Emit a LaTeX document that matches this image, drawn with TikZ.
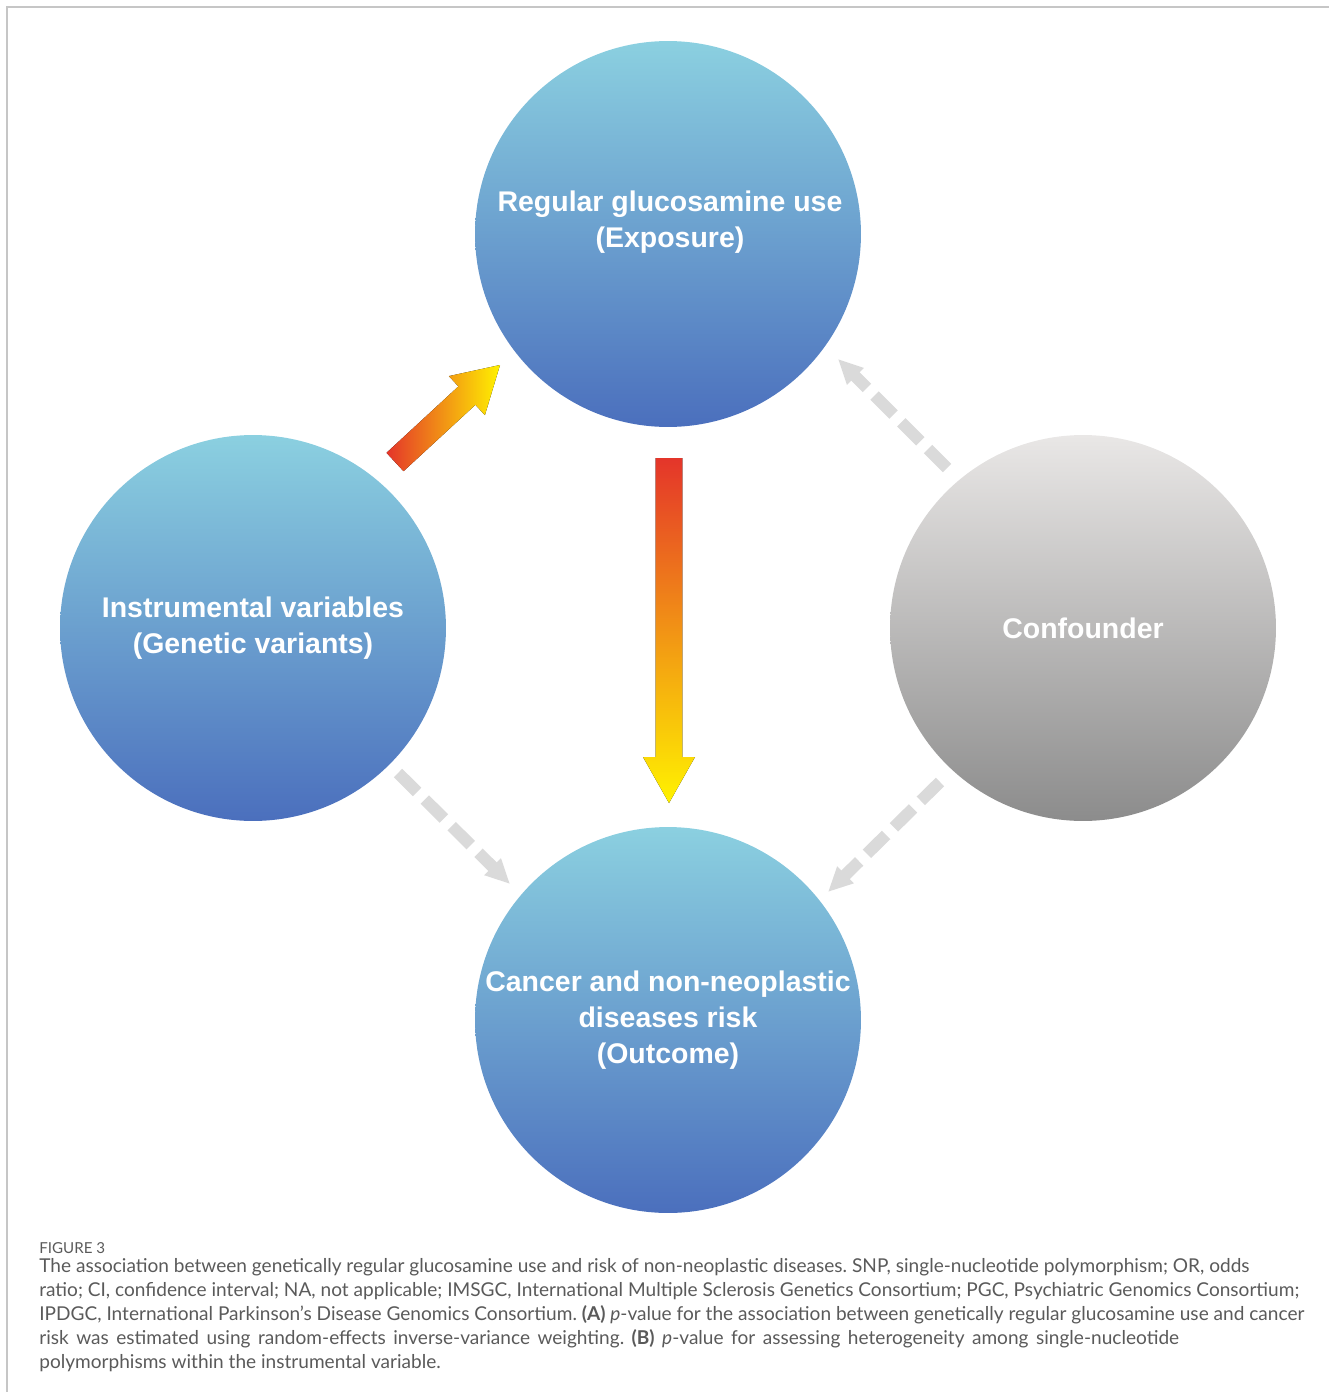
\documentclass[tikz,border=0pt]{standalone}
\usepackage{fontspec}
\usetikzlibrary{arrows.meta}
\newfontfamily\ballfont{Liberation Sans}
\newfontfamily\capfont{Lato}
\frenchspacing
\definecolor{balltop}{HTML}{8BD0E0}
\definecolor{ballmid}{HTML}{66A3D4}
\definecolor{ballbot}{HTML}{4B6FBD}
\definecolor{greytop}{HTML}{E9E7E6}
\definecolor{greymid}{HTML}{BAB8B6}
\definecolor{greybot}{HTML}{8C8C8C}
\definecolor{arrred}{HTML}{E4352A}
\definecolor{arrorange}{HTML}{F3A51E}
\definecolor{arryellow}{HTML}{FFF200}
\definecolor{dashgrey}{HTML}{DADADA}
\definecolor{capgrey}{HTML}{5A5A5A}

\begin{document}
\begin{tikzpicture}[x=0.02cm,y=-0.02cm]
	\tikzstyle{ball}=[circle,minimum size=7.72cm,inner sep=0pt,align=center,text=white,font=\ballfont\bfseries\fontsize{16.2}{20.4}\selectfont];
	\tikzstyle{blueball}=[ball,top color=balltop,middle color=ballmid,bottom color=ballbot];
	\tikzstyle{greyball}=[ball,top color=greytop,middle color=greymid,bottom color=greybot];
	\tikzstyle{balltext}=[align=center,inner sep=0pt,text=white,font=\ballfont\bfseries\fontsize{16.2}{20.4}\selectfont];
	\tikzstyle{dasharr}=[draw=dashgrey,line width=6.8pt,dash pattern=on 15.3pt off 6.2pt,-{Triangle[width=12.5pt,length=14pt]}];
	\tikzstyle{capline}=[anchor=base west,inner sep=0pt,text=capgrey,font=\capfont\fontsize{10.85}{13.6}\selectfont];

	\useasboundingbox (0,0) rectangle (1329,1392);
	\draw[gray!45,line width=1pt] (7,1392) -- (7,7) -- (1329,7);

	\node[blueball] (expo) at (668,234) {};
	\node[balltext] (expotext) at (670,222) {Regular glucosamine use\\(Exposure)};
	\node[blueball] (iv)   at (253,628) {Instrumental variables\\(Genetic variants)};
	\node[greyball] (conf) at (1083,628) {Confounder};
	\node[blueball] (outc) at (668,1020) {Cancer and non-neoplastic\\diseases risk\\(Outcome)};

	% fat arrows
	\fill[left color=arrred,middle color=arrorange,right color=arryellow]
		(386.5,452.8) -- (458.4,386.4) -- (448.9,376.1) -- (500,365)
		-- (484.9,415.1) -- (475.4,404.8) -- (403.5,471.2) -- cycle;
	\fill[top color=arrred,middle color=arrorange,bottom color=arryellow]
		(655.7,458) -- (682.3,458) -- (682.3,757) -- (695,757)
		-- (669,803) -- (643,757) -- (655.7,757) -- cycle;

	% dashed arrows
	\coordinate (c1) at (947,468);
	\coordinate (c2) at (838,359);
	\coordinate (c3) at (398,773);
	\coordinate (c4) at (510,884);
	\coordinate (c5) at (940,782);
	\coordinate (c6) at (828,892);
	\draw[dasharr] (c1) -- (c2);
	\draw[dasharr] (c3) -- (c4);
	\draw[dasharr] (c5) -- (c6);

	% caption
	\node[capline,font=\capfont\fontsize{8.6}{10}\selectfont] (fig) at (39,1253) {FIGURE 3};
	\node[capline] (cap1) at (39,1272) {The association between genetically regular glucosamine use and risk of non-neoplastic diseases. SNP, single-nucleotide polymorphism; OR, odds};
	\node[capline] (cap2) at (39,1296) {ratio; CI, confidence interval; NA, not applicable; IMSGC, International Multiple Sclerosis Genetics Consortium; PGC, Psychiatric Genomics Consortium;};
	\node[capline] (cap3) at (39,1320) {IPDGC, International Parkinson’s Disease Genomics Consortium. \textbf{(A)} \textit{p}-value for the association between genetically regular glucosamine use and cancer};
	\node[capline] (cap4) at (39,1344) {\makebox[22.8cm][s]{risk was estimated using random-effects inverse-variance weighting. \textbf{(B)} \textit{p}-value for assessing heterogeneity among single-nucleotide}};
	\node[capline] (cap5) at (39,1368) {polymorphisms within the instrumental variable.};
\end{tikzpicture}
\end{document}
